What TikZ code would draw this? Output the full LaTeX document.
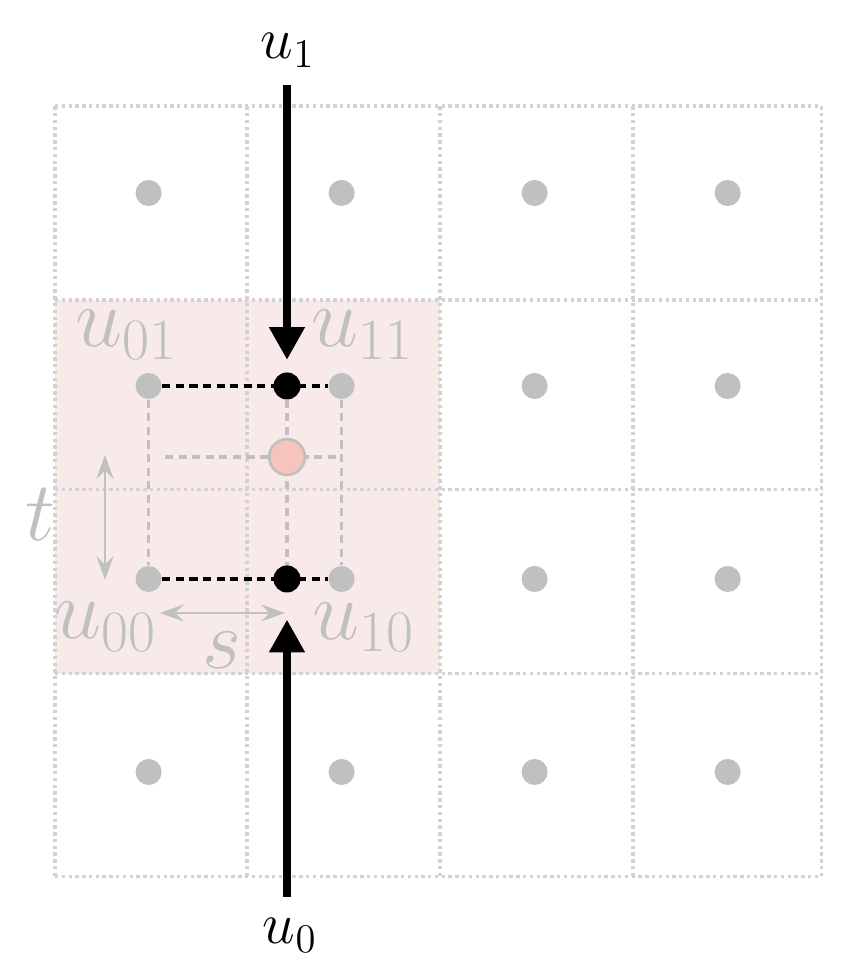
\documentclass[tikz,border=0pt]{standalone}
\usepackage{amsmath}
\usepackage{amssymb}
\usepackage{tikz}
\usepackage{xcolor}
\usetikzlibrary{arrows.meta}

\definecolor{dotgray}{RGB}{191,192,192}
\definecolor{gridgray}{RGB}{210,210,210}
\definecolor{cellpink}{RGB}{249,234,234}
\definecolor{samplepink}{RGB}{246,196,188}

\tikzset{
	gdot/.style={circle, fill=dotgray, inner sep=0pt, minimum size=0.27cm},
	bdot/.style={circle, fill=black, inner sep=0pt, minimum size=0.28cm},
	sdot/.style={circle, fill=samplepink, draw=dotgray, line width=0.8pt, inner sep=0pt, minimum size=0.37cm},
	gridline/.style={gridgray, line width=1pt, dash pattern=on 1pt off 1pt},
	guide/.style={dotgray, line width=1.1pt, dash pattern=on 2.4pt off 1.6pt},
	lerp/.style={black, line width=1.1pt, dash pattern=on 2.4pt off 1.6pt},
	query/.style={line width=2.6pt, -{Triangle[length=0.34cm, width=0.35cm]}},
	span/.style={dotgray, line width=0.8pt, {Stealth[length=7pt, width=5pt, inset=2.5pt]}-{Stealth[length=7pt, width=5pt, inset=2.5pt]}},
	glabel/.style={text=dotgray, font=\fontsize{25}{30}\selectfont},
}

\begin{document}
\begin{tikzpicture}
	\useasboundingbox (-1.54,0) rectangle (7.444,10);

	% Highlighted 2x2 cells
	\fill[cellpink] (-0.97,3.02) rectangle (3.02,6.89);

	% Cell borders
	\foreach \x in {-0.97,1.02,3.02,5.02,6.97}
		\draw[gridline] (\x,0.92) -- (\x,8.9);
	\foreach \y in {0.92,3.02,4.93,6.89,8.9}
		\draw[gridline] (-0.97,\y) -- (6.97,\y);

	% Cell centres
	\foreach \i in {0,...,3}
		\foreach \j in {1,...,4}
			\node[gdot] (d\i\j) at (2*\i,2*\j) {};

	% Interpolation points
	\coordinate (p1) at (1.434,6);
	\coordinate (p0) at (1.434,4);
	\coordinate (q) at (1.434,5.264);
	\coordinate (qa) at (0.17,5.264);
	\coordinate (a1) at (1.434,9.12);
	\coordinate (a0) at (1.434,0.705);

	% Gray guides
	\draw[guide] (d03) -- (d02);
	\draw[guide] (d13) -- (d12);
	\draw[guide] (p1) -- (p0);
	\draw[guide] (qa) -- (d13 |- q);

	% Black guides between neighbours
	\draw[lerp] (d03) -- (d13);
	\draw[lerp] (d02) -- (d12);

	\node[bdot] (b1) at (p1) {};
	\node[bdot] (b0) at (p0) {};
	\node[sdot] (s) at (q) {};

	% Query arrows
	\draw[query, shorten >=0.27cm] (a1) -- (b1.center);
	\draw[query, shorten >=0.42cm] (a0) -- (b0.center);
	\node (u1) at (1.444,9.48) {\LARGE $u_1$};
	\node (u0) at (1.465,0.311) {\LARGE $u_0$};

	% Fractions s and t
	\coordinate (ta) at (-0.452,5.285);
	\coordinate (tb) at (-0.452,3.99);
	\coordinate (sa) at (0.118,3.648);
	\coordinate (sb) at (1.413,3.648);
	\draw[span] (ta) -- (tb);
	\draw[span] (sa) -- (sb);

	% Corner labels
	\node[glabel] (l01) at (-0.224,6.528) {$u_{01}$};
	\node[glabel] (l11) at (2.222,6.528) {$u_{11}$};
	\node[glabel] (l00) at (-0.44,3.502) {$u_{00}$};
	\node[glabel] (l10) at (2.232,3.5) {$u_{10}$};
	\node[glabel] (lt) at (-1.125,4.663) {$t$};
	\node[glabel] (ls) at (0.76,3.264) {$s$};

\end{tikzpicture}
\end{document}
